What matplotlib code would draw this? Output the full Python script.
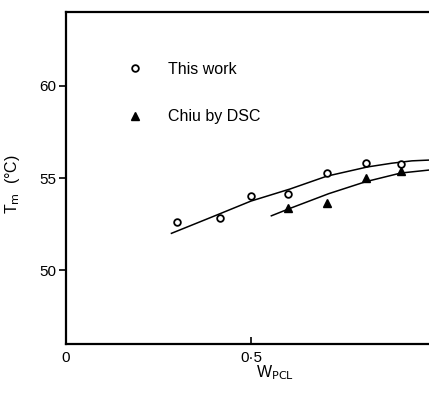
import matplotlib.pyplot as plt

plt.rcParams['font.family'] = ['Liberation Sans', 'DejaVu Sans']

w_this = [0.30, 0.415, 0.50, 0.60, 0.705, 0.81, 0.905]
tm_this = [52.6, 52.85, 54.05, 54.15, 55.25, 55.8, 55.75]

w_chiu = [0.60, 0.705, 0.81, 0.905]
tm_chiu = [53.4, 53.65, 55.0, 55.4]

# hand-drawn guide curves
curve_this_w = [0.285, 0.39, 0.50, 0.605, 0.705, 0.815, 0.88, 0.935, 0.99]
curve_this_tm = [52.0, 52.85, 53.75, 54.4, 55.1, 55.6, 55.8, 55.93, 55.98]
curve_chiu_w = [0.555, 0.605, 0.71, 0.81, 0.905, 0.99]
curve_chiu_tm = [52.95, 53.35, 54.15, 54.8, 55.27, 55.45]

xticks = [0, 0.5, 1.0]
xtick_labels = ['0', '0\u00b75', '']  # the "1" is cropped away in the original
yticks = [50, 55, 60]

fig = plt.figure(figsize=(4.29, 4.03), dpi=100)
ax = fig.add_axes([66 / 429, 59 / 403, 370 / 429, 332 / 403])

ax.plot(curve_this_w, curve_this_tm, color='black', lw=1.1)
ax.plot(curve_chiu_w, curve_chiu_tm, color='black', lw=1.1)
ax.plot(w_this, tm_this, 'o', ms=4.8, mfc='white', mec='black', mew=1.3,
        label='This work')
ax.plot(w_chiu, tm_chiu, '^', ms=5.5, color='black', label='Chiu by DSC')

ax.set_xlim(0, 1.0)
ax.set_ylim(46, 64)
ax.set_xticks(xticks)
ax.set_xticklabels(xtick_labels)
ax.set_yticks(yticks)
ax.tick_params(axis='x', direction='in', length=5, width=1.2, labelsize=11, pad=5)
ax.tick_params(axis='y', direction='out', length=5, width=1.2, labelsize=11, pad=2)
for s in ax.spines.values():
    s.set_linewidth(1.6)

ax.set_xlabel('W$_{\\mathrm{PCL}}$', fontsize=11.5)
ax.xaxis.set_label_coords(0.566, -0.057)
ax.set_ylabel('T$_{\\mathrm{m}}$  (\u00b0C)', fontsize=11.5)
ax.yaxis.set_label_coords(-0.118, 0.482)

ax.legend(loc='upper left', bbox_to_anchor=(0.147, 0.87), frameon=False,
          fontsize=11.5, handlelength=1.0, handletextpad=1.55, labelspacing=2.05,
          borderaxespad=0)

fig.savefig('out.png', dpi=100)
